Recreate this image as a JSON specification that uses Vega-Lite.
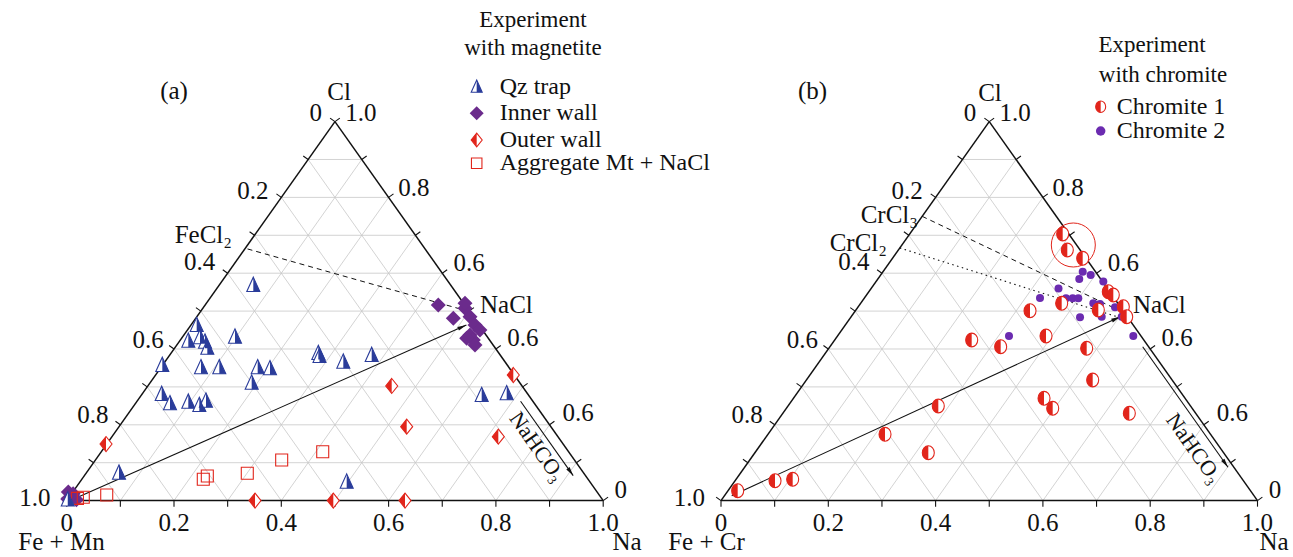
{
"$schema": "https://vega.github.io/schema/vega-lite/v6.json",
"width": 1293, "height": 557,
"autosize": {"type": "none"},
"padding": 0,
"background": "white",
"config": {"view": {"stroke": null}, "text": {"font": "Liberation Serif", "color": "#111111"}},
"datasets": {
"grid": [
{"x":0.05,"y":0.1,"x2":0.95,"y2":0.1},{"x":0.1,"y":0.2,"x2":0.9,"y2":0.2},{"x":0.15,"y":0.3,"x2":0.85,"y2":0.3},{"x":0.2,"y":0.4,"x2":0.8,"y2":0.4},{"x":0.25,"y":0.5,"x2":0.75,"y2":0.5},{"x":0.3,"y":0.6,"x2":0.7,"y2":0.6},{"x":0.35,"y":0.7,"x2":0.65,"y2":0.7},{"x":0.4,"y":0.8,"x2":0.6,"y2":0.8},{"x":0.45,"y":0.9,"x2":0.55,"y2":0.9},
{"x":0.1,"y":0,"x2":0.55,"y2":0.9},{"x":0.2,"y":0,"x2":0.6,"y2":0.8},{"x":0.3,"y":0,"x2":0.65,"y2":0.7},{"x":0.4,"y":0,"x2":0.7,"y2":0.6},{"x":0.5,"y":0,"x2":0.75,"y2":0.5},{"x":0.6,"y":0,"x2":0.8,"y2":0.4},{"x":0.7,"y":0,"x2":0.85,"y2":0.3},{"x":0.8,"y":0,"x2":0.9,"y2":0.2},{"x":0.9,"y":0,"x2":0.95,"y2":0.1},
{"x":0.1,"y":0,"x2":0.05,"y2":0.1},{"x":0.2,"y":0,"x2":0.1,"y2":0.2},{"x":0.3,"y":0,"x2":0.15,"y2":0.3},{"x":0.4,"y":0,"x2":0.2,"y2":0.4},{"x":0.5,"y":0,"x2":0.25,"y2":0.5},{"x":0.6,"y":0,"x2":0.3,"y2":0.6},{"x":0.7,"y":0,"x2":0.35,"y2":0.7},{"x":0.8,"y":0,"x2":0.4,"y2":0.8},{"x":0.9,"y":0,"x2":0.45,"y2":0.9}
],
"frame": [
{"x":0,"y":0,"x2":1,"y2":0},{"x":0,"y":0,"x2":0.5,"y2":1},{"x":1,"y":0,"x2":0.5,"y2":1}
],
"ticks": [
{"x":0,"y":0,"x2":0,"y2":-0.016},{"x":0.1,"y":0,"x2":0.1,"y2":-0.016},{"x":0.2,"y":0,"x2":0.2,"y2":-0.016},{"x":0.3,"y":0,"x2":0.3,"y2":-0.016},{"x":0.4,"y":0,"x2":0.4,"y2":-0.016},{"x":0.5,"y":0,"x2":0.5,"y2":-0.016},{"x":0.6,"y":0,"x2":0.6,"y2":-0.016},{"x":0.7,"y":0,"x2":0.7,"y2":-0.016},{"x":0.8,"y":0,"x2":0.8,"y2":-0.016},{"x":0.9,"y":0,"x2":0.9,"y2":-0.016},{"x":1,"y":0,"x2":1,"y2":-0.016},
{"x":0,"y":0,"x2":-0.0091,"y2":0.0092},{"x":0.05,"y":0.1,"x2":0.0409,"y2":0.1092},{"x":0.1,"y":0.2,"x2":0.0909,"y2":0.2092},{"x":0.15,"y":0.3,"x2":0.1409,"y2":0.3092},{"x":0.2,"y":0.4,"x2":0.1909,"y2":0.4092},{"x":0.25,"y":0.5,"x2":0.2409,"y2":0.5092},{"x":0.3,"y":0.6,"x2":0.2909,"y2":0.6092},{"x":0.35,"y":0.7,"x2":0.3409,"y2":0.7092},{"x":0.4,"y":0.8,"x2":0.3909,"y2":0.8092},{"x":0.45,"y":0.9,"x2":0.4409,"y2":0.9092},{"x":0.5,"y":1,"x2":0.4909,"y2":1.0092},
{"x":1,"y":0,"x2":1.0091,"y2":0.0092},{"x":0.95,"y":0.1,"x2":0.9591,"y2":0.1092},{"x":0.9,"y":0.2,"x2":0.9091,"y2":0.2092},{"x":0.85,"y":0.3,"x2":0.8591,"y2":0.3092},{"x":0.8,"y":0.4,"x2":0.8091,"y2":0.4092},{"x":0.75,"y":0.5,"x2":0.7591,"y2":0.5092},{"x":0.7,"y":0.6,"x2":0.7091,"y2":0.6092},{"x":0.65,"y":0.7,"x2":0.6591,"y2":0.7092},{"x":0.6,"y":0.8,"x2":0.6091,"y2":0.8092},{"x":0.55,"y":0.9,"x2":0.5591,"y2":0.9092},{"x":0.5,"y":1,"x2":0.5091,"y2":1.0092}
],
"leftLabels": [{"x":0.476,"y":1.022,"label":"0"},{"x":0.376,"y":0.817,"label":"0.2"},{"x":0.277,"y":0.629,"label":"0.4"},{"x":0.181,"y":0.424,"label":"0.6"},{"x":0.078,"y":0.225,"label":"0.8"},{"x":-0.03,"y":0.008,"label":"1.0"}],
"rightLabels": [{"x":0.519,"y":1.022,"label":"1.0"},{"x":0.618,"y":0.825,"label":"0.8"},{"x":0.721,"y":0.627,"label":"0.6"},{"x":0.821,"y":0.43,"label":"0.6"},{"x":0.924,"y":0.231,"label":"0.6"},{"x":1.021,"y":0.027,"label":"0"}],
"bottomLabels": [{"x":0,"y":-0.0591,"label":"0"},{"x":0.2,"y":-0.0591,"label":"0.2"},{"x":0.4,"y":-0.0591,"label":"0.4"},{"x":0.6,"y":-0.0591,"label":"0.6"},{"x":0.8,"y":-0.0591,"label":"0.8"},{"x":1,"y":-0.0591,"label":"1.0"}],
"linesA": [
{"line":"FeCl2","x":0.337,"y":0.664,"x2":0.74,"y2":0.503},
{"line":"main","x":0.01,"y":0.002,"x2":0.745,"y2":0.463},
{"line":"NaHCO3","x":0.846,"y":0.262,"x2":0.944,"y2":0.066}
],
"headsA": [{"line":"main","x":0.745,"y":0.463},{"line":"NaHCO3","x":0.944,"y":0.066}],
"linesB": [
{"line":"CrCl3","x":0.375,"y":0.75,"x2":0.745,"y2":0.5},
{"line":"CrCl2","x":0.3333,"y":0.6667,"x2":0.745,"y2":0.482},
{"line":"main","x":0.02,"y":0.013,"x2":0.744,"y2":0.485},
{"line":"NaHCO3","x":0.786,"y":0.406,"x2":0.945,"y2":0.088}
],
"headsB": [{"line":"main","x":0.744,"y":0.485},{"line":"NaHCO3","x":0.945,"y":0.088}],
"qz": [
{"x":0.3478,"y":0.5689},{"x":0.2423,"y":0.4633},{"x":0.2267,"y":0.4219},{"x":0.2485,"y":0.4309},{"x":0.2578,"y":0.4193},{"x":0.2621,"y":0.4034},{"x":0.3137,"y":0.4325},{"x":0.1782,"y":0.3578},{"x":0.2503,"y":0.3517},{"x":0.2844,"y":0.3517},{"x":0.356,"y":0.3517},{"x":0.3789,"y":0.3491},{"x":0.3448,"y":0.3111},{"x":0.469,"y":0.3894},{"x":0.4712,"y":0.3815},{"x":0.1771,"y":0.2813},{"x":0.1925,"y":0.2567},{"x":0.2267,"y":0.2609},{"x":0.2472,"y":0.2522},{"x":0.2596,"y":0.2636},{"x":0.0975,"y":0.0736},{"x":0.5156,"y":0.3665},{"x":0.5685,"y":0.3842},{"x":0.7735,"y":0.2786},{"x":0.8201,"y":0.2831},{"x":0.5219,"y":0.0499},{"x":0.002,"y":0.003}
],
"inner": [
{"x":0.6926,"y":0.5161},{"x":0.7206,"y":0.481},{"x":0.7424,"y":0.5074},{"x":0.7517,"y":0.4852},{"x":0.761,"y":0.4633},{"x":0.7703,"y":0.4501},{"x":0.7517,"y":0.4369},{"x":0.7579,"y":0.4237},{"x":0.761,"y":0.4106},{"x":0.7456,"y":0.4282},{"x":0.7424,"y":0.5206},
{"x":0.003,"y":0.023},{"x":0.01,"y":0.01},{"x":0.018,"y":0.002},{"x":0.002,"y":0.004},{"x":0.012,"y":0.018}
],
"outer": [
{"x":0.0733,"y":0.1493},{"x":0.351,"y":0},{"x":0.4969,"y":0},{"x":0.6306,"y":0},{"x":0.6058,"y":0.3024},{"x":0.6337,"y":0.195},{"x":0.8045,"y":0.1686},{"x":0.8324,"y":0.3314}
],
"agg": [
{"x":0.02,"y":0.006},{"x":0.0309,"y":0.0087},{"x":0.0746,"y":0.0148},{"x":0.2546,"y":0.0562},{"x":0.2621,"y":0.0649},{"x":0.3366,"y":0.072},{"x":0.4007,"y":0.1071},{"x":0.4772,"y":0.129}
],
"chromite1": [
{"x":0.6369,"y":0.7034},{"x":0.6455,"y":0.6612},{"x":0.6742,"y":0.6393},{"x":0.7219,"y":0.5512},{"x":0.7312,"y":0.5425},{"x":0.7499,"y":0.5116},{"x":0.7562,"y":0.4852},{"x":0.635,"y":0.5206},{"x":0.576,"y":0.5011},{"x":0.7033,"y":0.5029},{"x":0.6058,"y":0.4343},{"x":0.5213,"y":0.4061},{"x":0.6816,"y":0.4018},{"x":0.4673,"y":0.4237},{"x":0.6928,"y":0.3182},{"x":0.6021,"y":0.2699},{"x":0.6183,"y":0.2435},{"x":0.7611,"y":0.2303},{"x":0.0311,"y":0.0261},{"x":0.1007,"y":0.0525},{"x":0.1336,"y":0.0562},{"x":0.3057,"y":0.1749},{"x":0.3864,"y":0.1264},{"x":0.405,"y":0.2496}
],
"chromite2": [
{"x":0.6742,"y":0.604},{"x":0.6891,"y":0.5953},{"x":0.6678,"y":0.5847},{"x":0.7126,"y":0.5781},{"x":0.6291,"y":0.5596},{"x":0.5946,"y":0.5346},{"x":0.6431,"y":0.5338},{"x":0.6555,"y":0.5338},{"x":0.666,"y":0.5338},{"x":0.694,"y":0.5206},{"x":0.7064,"y":0.5187},{"x":0.7344,"y":0.51},{"x":0.7096,"y":0.4852},{"x":0.6692,"y":0.4836},{"x":0.7469,"y":0.4852},{"x":0.7562,"y":0.481},{"x":0.7685,"y":0.4343},{"x":0.5368,"y":0.4343}
],
"ring": [{"x":0.6567,"y":0.6744}],
"legendA": [
{"x":0.7642,"y":1.0921,"series":"qz","label":"Qz trap"},
{"x":0.7642,"y":1.0219,"series":"inner","label":"Inner wall"},
{"x":0.7642,"y":0.9515,"series":"outer","label":"Outer wall"},
{"x":0.7642,"y":0.89,"series":"agg","label":"Aggregate Mt + NaCl"}
],
"legendB": [
{"x":0.7077,"y":1.0393,"series":"c1","label":"Chromite 1"},
{"x":0.7077,"y":0.9752,"series":"c2","label":"Chromite 2"}
],
"headA": [{"x":0.869,"y":1.2681,"label":"Experiment"},{"x":0.869,"y":1.1942,"label":"with magnetite"}],
"headB": [{"x":0.8034,"y":1.2021,"label":"Experiment"},{"x":0.8239,"y":1.123,"label":"with chromite"}],
"topA": [{"x":0.2,"y":1.0807,"label":"(a)"},{"x":0.5076,"y":1.0768,"label":"Cl"}],
"topB": [{"x":0.1706,"y":1.0807,"label":"(b)"},{"x":0.5014,"y":1.0752,"label":"Cl"}],
"titlesA": [{"x":-0.0097,"y":-0.1303,"label":"Fe + Mn"},{"x":1.0444,"y":-0.1303,"label":"Na"}],
"titlesB": [{"x":-0.027,"y":-0.1303,"label":"Fe + Cr"},{"x":1.0308,"y":-0.1303,"label":"Na"}],
"naclA": [{"x":0.7704,"y":0.5161,"label":"NaCl"}],
"naclB": [{"x":0.7679,"y":0.5161,"label":"NaCl"}],
"chlA": [{"x":0.3081,"y":0.7008,"label":"FeCl₂"}],
"chlB": [{"x":0.3672,"y":0.7536,"label":"CrCl₃"},{"x":0.3094,"y":0.6797,"label":"CrCl₂"}],
"bicA": [{"x":0.877,"y":0.142,"label":"NaHCO₃"}],
"bicB": [{"x":0.8816,"y":0.138,"label":"NaHCO₃"}]
},
"layer": [
{
"encoding": {
"x": {"field":"x","type":"quantitative","scale":{"domain":[-0.12433,2.28574],"nice":false,"zero":false},"axis":null},
"y": {"field":"y","type":"quantitative","scale":{"domain":[-0.1488,1.3208],"nice":false,"zero":false},"axis":null}
},
"layer": [
{"data":{"name":"grid"},"mark":{"type":"rule","color":"#c8c8c8","strokeWidth":0.8},"encoding":{"x2":{"field":"x2"},"y2":{"field":"y2"}}},
{"data":{"name":"frame"},"mark":{"type":"rule","color":"#111111","strokeWidth":1.5},"encoding":{"x2":{"field":"x2"},"y2":{"field":"y2"}}},
{"data":{"name":"ticks"},"mark":{"type":"rule","color":"#111111","strokeWidth":1.1},"encoding":{"x2":{"field":"x2"},"y2":{"field":"y2"}}},
{"data":{"name":"linesA"},"transform":[{"filter":"datum.line === 'FeCl2'"}],"mark":{"type":"rule","color":"#111111","strokeWidth":1,"strokeDash":[5,4]},"encoding":{"x2":{"field":"x2"},"y2":{"field":"y2"}}},
{"data":{"name":"linesA"},"transform":[{"filter":"datum.line !== 'FeCl2'"}],"mark":{"type":"rule","color":"#111111","strokeWidth":1.1},"encoding":{"x2":{"field":"x2"},"y2":{"field":"y2"}}},
{"data":{"name":"headsA"},"transform":[{"filter":"datum.line === 'main'"}],"mark":{"type":"point","shape":"M0,0L-0.45,2L0.45,2Z","filled":true,"fill":"#111111","strokeWidth":0,"opacity":1,"size":81,"angle":66.3}},
{"data":{"name":"headsA"},"transform":[{"filter":"datum.line === 'NaHCO3'"}],"mark":{"type":"point","shape":"M0,0L-0.45,2L0.45,2Z","filled":true,"fill":"#111111","strokeWidth":0,"opacity":1,"size":81,"angle":144.7}},
{"data":{"name":"inner"},"mark":{"type":"point","shape":"M0,-1L1,0L0,1L-1,0Z","filled":true,"fill":"#6b2b8c","strokeWidth":0,"opacity":1,"size":225}},
{"data":{"name":"outer"},"mark":{"type":"point","shape":"M0,-1.25L1,0L0,1.25L-1,0Z","filled":true,"fill":"white","stroke":"#e1251b","strokeWidth":1.1,"opacity":1,"size":144}},
{"data":{"name":"outer"},"mark":{"type":"point","shape":"M0,-1.25L-1,0L0,1.25Z","filled":true,"fill":"#e1251b","strokeWidth":0,"opacity":1,"size":144}},
{"data":{"name":"agg"},"mark":{"type":"point","shape":"square","filled":false,"stroke":"#e1251b","strokeWidth":1.1,"opacity":1,"size":144}},
{"data":{"name":"qz"},"mark":{"type":"point","shape":"M0,-1.2L1,1L-1,1Z","filled":true,"fill":"white","stroke":"#2a3c9a","strokeWidth":1.1,"opacity":1,"size":169}},
{"data":{"name":"qz"},"mark":{"type":"point","shape":"M0,-1.2L1,1L0,1Z","filled":true,"fill":"#2a3c9a","strokeWidth":0,"opacity":1,"size":169}},
{"data":{"name":"legendA"},"transform":[{"filter":"datum.series === 'qz'"}],"mark":{"type":"point","shape":"M0,-1.2L1,1L-1,1Z","filled":true,"fill":"white","stroke":"#2a3c9a","strokeWidth":1.1,"opacity":1,"size":121}},
{"data":{"name":"legendA"},"transform":[{"filter":"datum.series === 'qz'"}],"mark":{"type":"point","shape":"M0,-1.2L1,1L0,1Z","filled":true,"fill":"#2a3c9a","strokeWidth":0,"opacity":1,"size":121}},
{"data":{"name":"legendA"},"transform":[{"filter":"datum.series === 'inner'"}],"mark":{"type":"point","shape":"M0,-1L1,0L0,1L-1,0Z","filled":true,"fill":"#6b2b8c","strokeWidth":0,"opacity":1,"size":196}},
{"data":{"name":"legendA"},"transform":[{"filter":"datum.series === 'outer'"}],"mark":{"type":"point","shape":"M0,-1.25L1,0L0,1.25L-1,0Z","filled":true,"fill":"white","stroke":"#e1251b","strokeWidth":1.1,"opacity":1,"size":121}},
{"data":{"name":"legendA"},"transform":[{"filter":"datum.series === 'outer'"}],"mark":{"type":"point","shape":"M0,-1.25L-1,0L0,1.25Z","filled":true,"fill":"#e1251b","strokeWidth":0,"opacity":1,"size":121}},
{"data":{"name":"legendA"},"transform":[{"filter":"datum.series === 'agg'"}],"mark":{"type":"point","shape":"square","filled":false,"stroke":"#e1251b","strokeWidth":1.1,"opacity":1,"size":110}},
{"data":{"name":"legendA"},"mark":{"type":"text","align":"left","baseline":"middle","fontSize":24,"dx":23},"encoding":{"text":{"field":"label","type":"nominal"}}},
{"data":{"name":"headA"},"mark":{"type":"text","align":"center","baseline":"middle","fontSize":23},"encoding":{"text":{"field":"label","type":"nominal"}}},
{"data":{"name":"leftLabels"},"mark":{"type":"text","align":"right","baseline":"middle","fontSize":25},"encoding":{"text":{"field":"label","type":"nominal"}}},
{"data":{"name":"rightLabels"},"mark":{"type":"text","align":"left","baseline":"middle","fontSize":25},"encoding":{"text":{"field":"label","type":"nominal"}}},
{"data":{"name":"bottomLabels"},"mark":{"type":"text","align":"center","baseline":"middle","fontSize":25},"encoding":{"text":{"field":"label","type":"nominal"}}},
{"data":{"name":"topA"},"mark":{"type":"text","align":"center","baseline":"middle","fontSize":25},"encoding":{"text":{"field":"label","type":"nominal"}}},
{"data":{"name":"titlesA"},"mark":{"type":"text","align":"center","baseline":"alphabetic","fontSize":25},"encoding":{"text":{"field":"label","type":"nominal"}}},
{"data":{"name":"naclA"},"mark":{"type":"text","align":"left","baseline":"middle","fontSize":25},"encoding":{"text":{"field":"label","type":"nominal"}}},
{"data":{"name":"chlA"},"mark":{"type":"text","align":"right","baseline":"middle","fontSize":25},"encoding":{"text":{"field":"label","type":"nominal"}}},
{"data":{"name":"bicA"},"mark":{"type":"text","align":"center","baseline":"middle","fontSize":22,"angle":54.7},"encoding":{"text":{"field":"label","type":"nominal"}}}
]
},
{
"encoding": {
"x": {"field":"x","type":"quantitative","scale":{"domain":[-1.3439,1.06617],"nice":false,"zero":false},"axis":null},
"y": {"field":"y","type":"quantitative","scale":{"domain":[-0.1488,1.3208],"nice":false,"zero":false},"axis":null}
},
"layer": [
{"data":{"name":"grid"},"mark":{"type":"rule","color":"#c8c8c8","strokeWidth":0.8},"encoding":{"x2":{"field":"x2"},"y2":{"field":"y2"}}},
{"data":{"name":"frame"},"mark":{"type":"rule","color":"#111111","strokeWidth":1.5},"encoding":{"x2":{"field":"x2"},"y2":{"field":"y2"}}},
{"data":{"name":"ticks"},"mark":{"type":"rule","color":"#111111","strokeWidth":1.1},"encoding":{"x2":{"field":"x2"},"y2":{"field":"y2"}}},
{"data":{"name":"linesB"},"transform":[{"filter":"datum.line === 'CrCl3'"}],"mark":{"type":"rule","color":"#111111","strokeWidth":1,"strokeDash":[5,4]},"encoding":{"x2":{"field":"x2"},"y2":{"field":"y2"}}},
{"data":{"name":"linesB"},"transform":[{"filter":"datum.line === 'CrCl2'"}],"mark":{"type":"rule","color":"#111111","strokeWidth":1.1,"strokeDash":[1.5,3.5]},"encoding":{"x2":{"field":"x2"},"y2":{"field":"y2"}}},
{"data":{"name":"linesB"},"transform":[{"filter":"datum.line === 'main' || datum.line === 'NaHCO3'"}],"mark":{"type":"rule","color":"#111111","strokeWidth":1.1},"encoding":{"x2":{"field":"x2"},"y2":{"field":"y2"}}},
{"data":{"name":"headsB"},"transform":[{"filter":"datum.line === 'main'"}],"mark":{"type":"point","shape":"M0,0L-0.45,2L0.45,2Z","filled":true,"fill":"#111111","strokeWidth":0,"opacity":1,"size":81,"angle":65.3}},
{"data":{"name":"headsB"},"transform":[{"filter":"datum.line === 'NaHCO3'"}],"mark":{"type":"point","shape":"M0,0L-0.45,2L0.45,2Z","filled":true,"fill":"#111111","strokeWidth":0,"opacity":1,"size":81,"angle":144.7}},
{"data":{"name":"ring"},"mark":{"type":"point","shape":"circle","filled":false,"stroke":"#e1251b","strokeWidth":1,"opacity":1,"size":1936}},
{"data":{"name":"chromite2"},"mark":{"type":"point","shape":"circle","filled":true,"fill":"#6b2bb0","strokeWidth":0,"opacity":1,"size":64}},
{"data":{"name":"chromite1"},"mark":{"type":"point","shape":"M0,-1.15C0.5523,-1.15 1,-0.6351 1,0C1,0.6351 0.5523,1.15 0,1.15C-0.5523,1.15 -1,0.6351 -1,0C-1,-0.6351 -0.5523,-1.15 0,-1.15Z","filled":true,"fill":"white","stroke":"#e1251b","strokeWidth":1.1,"opacity":1,"size":144}},
{"data":{"name":"chromite1"},"mark":{"type":"point","shape":"M0,-1.15C-0.5523,-1.15 -1,-0.6351 -1,0C-1,0.6351 -0.5523,1.15 0,1.15Z","filled":true,"fill":"#e1251b","strokeWidth":0,"opacity":1,"size":144}},
{"data":{"name":"legendB"},"transform":[{"filter":"datum.series === 'c1'"}],"mark":{"type":"point","shape":"M0,-1.15C0.5523,-1.15 1,-0.6351 1,0C1,0.6351 0.5523,1.15 0,1.15C-0.5523,1.15 -1,0.6351 -1,0C-1,-0.6351 -0.5523,-1.15 0,-1.15Z","filled":true,"fill":"white","stroke":"#e1251b","strokeWidth":1.1,"opacity":1,"size":100}},
{"data":{"name":"legendB"},"transform":[{"filter":"datum.series === 'c1'"}],"mark":{"type":"point","shape":"M0,-1.15C-0.5523,-1.15 -1,-0.6351 -1,0C-1,0.6351 -0.5523,1.15 0,1.15Z","filled":true,"fill":"#e1251b","strokeWidth":0,"opacity":1,"size":100}},
{"data":{"name":"legendB"},"transform":[{"filter":"datum.series === 'c2'"}],"mark":{"type":"point","shape":"circle","filled":true,"fill":"#6b2bb0","strokeWidth":0,"opacity":1,"size":90}},
{"data":{"name":"legendB"},"mark":{"type":"text","align":"left","baseline":"middle","fontSize":24,"dx":16},"encoding":{"text":{"field":"label","type":"nominal"}}},
{"data":{"name":"headB"},"mark":{"type":"text","align":"center","baseline":"middle","fontSize":23},"encoding":{"text":{"field":"label","type":"nominal"}}},
{"data":{"name":"leftLabels"},"mark":{"type":"text","align":"right","baseline":"middle","fontSize":25},"encoding":{"text":{"field":"label","type":"nominal"}}},
{"data":{"name":"rightLabels"},"mark":{"type":"text","align":"left","baseline":"middle","fontSize":25},"encoding":{"text":{"field":"label","type":"nominal"}}},
{"data":{"name":"bottomLabels"},"mark":{"type":"text","align":"center","baseline":"middle","fontSize":25},"encoding":{"text":{"field":"label","type":"nominal"}}},
{"data":{"name":"topB"},"mark":{"type":"text","align":"center","baseline":"middle","fontSize":25},"encoding":{"text":{"field":"label","type":"nominal"}}},
{"data":{"name":"titlesB"},"mark":{"type":"text","align":"center","baseline":"alphabetic","fontSize":25},"encoding":{"text":{"field":"label","type":"nominal"}}},
{"data":{"name":"naclB"},"mark":{"type":"text","align":"left","baseline":"middle","fontSize":25},"encoding":{"text":{"field":"label","type":"nominal"}}},
{"data":{"name":"chlB"},"mark":{"type":"text","align":"right","baseline":"middle","fontSize":25},"encoding":{"text":{"field":"label","type":"nominal"}}},
{"data":{"name":"bicB"},"mark":{"type":"text","align":"center","baseline":"middle","fontSize":22,"angle":54.7},"encoding":{"text":{"field":"label","type":"nominal"}}}
]
}
],
"resolve": {"scale": {"x": "independent"}}
}
